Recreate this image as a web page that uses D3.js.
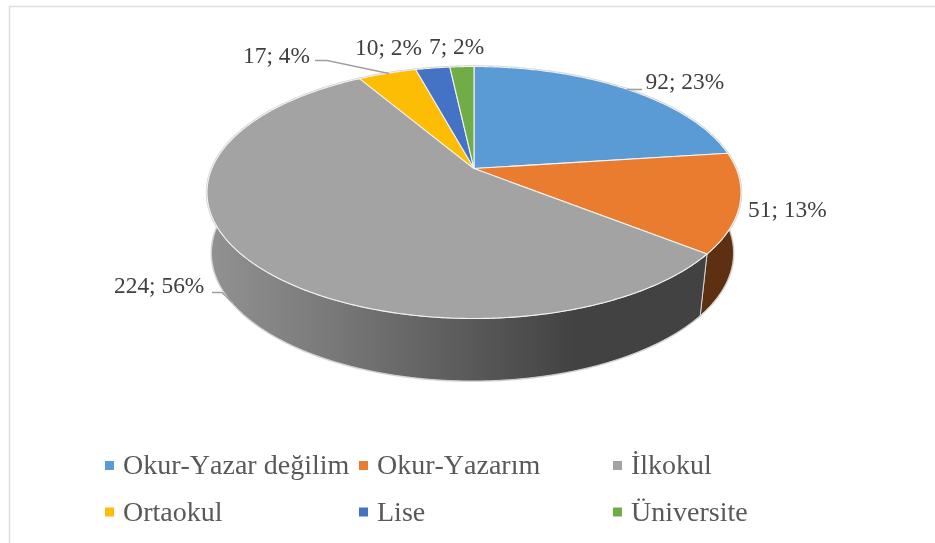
<!DOCTYPE html>
<html><head><meta charset="utf-8">
<script src="https://cdnjs.cloudflare.com/ajax/libs/d3/7.8.5/d3.min.js"></script>
<style>html,body{margin:0;padding:0;background:#fff}svg{display:block;filter:blur(0.45px)}
text{font-family:"Liberation Serif",serif;font-kerning:none}</style>
</head><body><svg id="c" width="935" height="543"></svg>
<script>
const categories = ["Okur-Yazar değilim","Okur-Yazarım","İlkokul","Ortaokul","Lise","Üniversite"];
const values = [92,51,224,17,10,7];
const colors = ["#5b9bd5","#ea7c2f","#a3a3a3","#fcbd04","#4472c4","#70ad47"];
const wallColors = ["#2f5d85","#5e3012","url(#wallGray)","#8a6a00","#2a4675","#43682b"];

const svg = d3.select("#c");
const W = 935, H = 543;

// chart frame
svg.append("path").attr("d",`M9.5,${H}V6.5H${W}`).attr("fill","none").attr("stroke","#dedede").attr("stroke-width",1.4);

// perspective geometry
const topDisc = {cx:474,cy:192.5,rx:267,ry:126};
const botDisc = {cx:472.5,cy:253,rx:261,ry:128};
const k = 0.19;
function project(angle,d){
  const X = Math.sin(angle), Y = -Math.cos(angle);
  const den = 1 - k*Y;
  return [d.cx + d.rx*X*Math.sqrt(1-k*k)/den, d.cy + d.ry*(Y-k)/den];
}
const apex = [topDisc.cx, topDisc.cy - k*topDisc.ry];
const pie = d3.pie().sort(null).startAngle(0).endAngle(2*Math.PI);
const arcs = pie(values);
const samples = (a,b)=>{const n=Math.max(4,Math.ceil((b-a)/0.01));return d3.range(n+1).map(i=>a+(b-a)*i/n);};
const line = d3.line();

const defs = svg.append("defs");
const g = defs.append("linearGradient").attr("id","wallGray").attr("gradientUnits","userSpaceOnUse")
  .attr("x1",207).attr("x2",575).attr("y1",0).attr("y2",0);
[[0,"#929292"],[.35,"#787878"],[.72,"#595959"],[1,"#424242"]].forEach(s=>g.append("stop").attr("offset",s[0]).attr("stop-color",s[1]));

// silhouette halo
const all = samples(0,2*Math.PI);
svg.append("path").attr("d",line(all.map(a=>project(a,botDisc)))+"Z").attr("fill","#fff").attr("stroke","#d4d4d4").attr("stroke-width",2);
svg.append("path").attr("d",line(all.map(a=>project(a,topDisc)))+"Z").attr("fill","#fff").attr("stroke","#cfcfcf").attr("stroke-width",2.4);

// walls
svg.append("g").selectAll("path").data(arcs).join("path")
  .attr("d",d=>{
    const s = samples(d.startAngle,d.endAngle);
    return line(s.map(a=>project(a,topDisc)).concat(s.slice().reverse().map(a=>project(a,botDisc))))+"Z";
  })
  .attr("fill",(d,i)=>wallColors[i])
  .attr("stroke",(d,i)=>i===1||i===2?"#dcdcdc":"none").attr("stroke-width",.9);

// top slices
svg.append("g").selectAll("path").data(arcs).join("path")
  .attr("d",d=>line([apex].concat(samples(d.startAngle,d.endAngle).map(a=>project(a,topDisc))))+"Z")
  .attr("fill",(d,i)=>colors[i]).attr("stroke","#f2f2f2").attr("stroke-width",1.1).attr("stroke-linejoin","round");

// leader lines
const leaders = [[[315,60.5],[327,60.5],[389,73.5]],[[627,89.5],[642,89.5]],[[212,292.5],[222,292.5],[233,303]]];
svg.append("g").selectAll("path").data(leaders).join("path")
  .attr("d",d=>line(d)).attr("fill","none").attr("stroke","#a0a0a0").attr("stroke-width",1.6);

// data labels
const total = d3.sum(values);
const labelPos = [[645.5,89],[748,217],[114,293],[243,63],[355,55],[429,54]];
svg.append("g").selectAll("text").data(values).join("text")
  .text(v=>`${v}; ${Math.round(v/total*100)}%`)
  .attr("x",(d,i)=>labelPos[i][0]).attr("y",(d,i)=>labelPos[i][1])
  .attr("font-size",23.4).attr("fill","#404040");

// legend
const legX = [105,359,613], legY = [474,520.5];
const leg = svg.append("g").selectAll("g").data(categories).join("g")
  .attr("transform",(d,i)=>`translate(${legX[i%3]},${legY[Math.floor(i/3)]})`);
leg.append("rect").attr("x",0).attr("y",-13).attr("width",9).attr("height",9).attr("fill",(d,i)=>colors[i]);
leg.append("text").text(d=>d).attr("x",18).attr("font-size",28).attr("fill","#595959");
</script></body></html>
